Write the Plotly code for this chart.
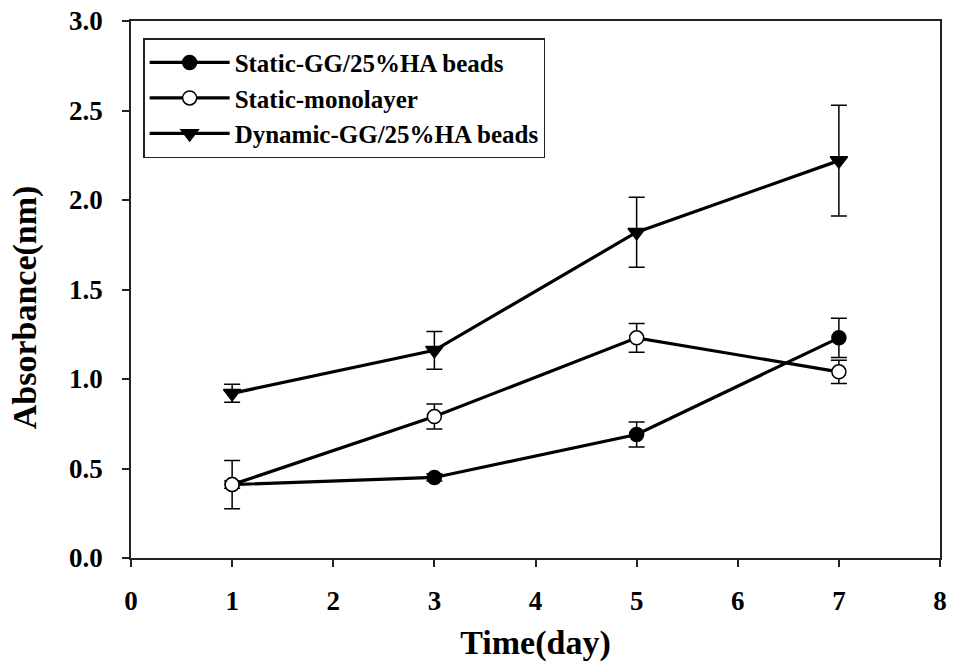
import plotly.graph_objects as go

days = [1, 3, 5, 7]
static_gg = [0.41, 0.45, 0.69, 1.23]
static_gg_err = [0.02, 0.02, 0.07, 0.11]
static_mono = [0.41, 0.79, 1.23, 1.04]
static_mono_err = [0.135, 0.07, 0.08, 0.065]
dynamic_gg = [0.92, 1.16, 1.82, 2.22]
dynamic_gg_err = [0.05, 0.105, 0.195, 0.31]

names = ["Static-GG/25%HA beads", "Static-monolayer", "Dynamic-GG/25%HA beads"]
x_ticks = [0, 1, 2, 3, 4, 5, 6, 7, 8]
y_ticks = [0.0, 0.5, 1.0, 1.5, 2.0, 2.5, 3.0]

FONT = "Liberation Serif, Times New Roman, serif"

fig = go.Figure()

def add(y, err, name, symbol, fill, size):
    fig.add_trace(go.Scatter(
        x=days, y=y, name=name, mode="lines+markers",
        line=dict(color="black", width=3.2),
        marker=dict(symbol=symbol, size=size, color=fill,
                    line=dict(color="black", width=1.5)),
        error_y=dict(type="data", array=err, visible=True,
                     color="black", thickness=1.5, width=8),
    ))

add(static_gg, static_gg_err, names[0], "circle", "black", 14)
add(static_mono, static_mono_err, names[1], "circle", "white", 14)
add(dynamic_gg, dynamic_gg_err, names[2], "triangle-down", "black", 15)

axis_common = dict(
    showline=True, linecolor="#222", linewidth=1.5, mirror=True,
    ticks="outside", ticklen=7, tickwidth=1.5, tickcolor="#222",
    showgrid=False, zeroline=False, automargin=False,
    ticklabeloverflow="allow",
    tickfont=dict(family=FONT, size=27, color="black", weight="bold"),
)

fig.update_xaxes(
    range=[0, 8], tickvals=x_ticks, ticktext=[str(v) for v in x_ticks],
    ticklabelstandoff=11,
    title=dict(text="<b>Time(day)</b>", font=dict(family=FONT, size=34, color="black"), standoff=16),
    **axis_common,
)
fig.update_yaxes(
    range=[0, 3], tickvals=y_ticks, ticktext=[f"{v:.1f}" for v in y_ticks],
    ticklabelstandoff=14,
    **axis_common,
)

fig.add_annotation(
    text="<b>Absorbance(nm)</b>", textangle=-90,
    xref="paper", yref="paper", x=-0.131, y=0.467,
    xanchor="center", yanchor="middle", showarrow=False,
    font=dict(family=FONT, size=34, color="black"),
)

fig.update_layout(
    width=953, height=662,
    margin=dict(l=131, r=13, t=21, b=104),
    plot_bgcolor="white", paper_bgcolor="white",
    showlegend=True,
    legend=dict(
        x=0.015, y=0.968, xanchor="left", yanchor="top",
        bordercolor="#222", borderwidth=1.5, bgcolor="white",
        font=dict(family=FONT, size=25, color="black", weight="bold"),
        traceorder="normal", tracegroupgap=0,
        itemwidth=80,
    ),
)

fig.write_html("out.html", config={"displayModeBar": False},
               post_script="document.body.style.margin='0';")
